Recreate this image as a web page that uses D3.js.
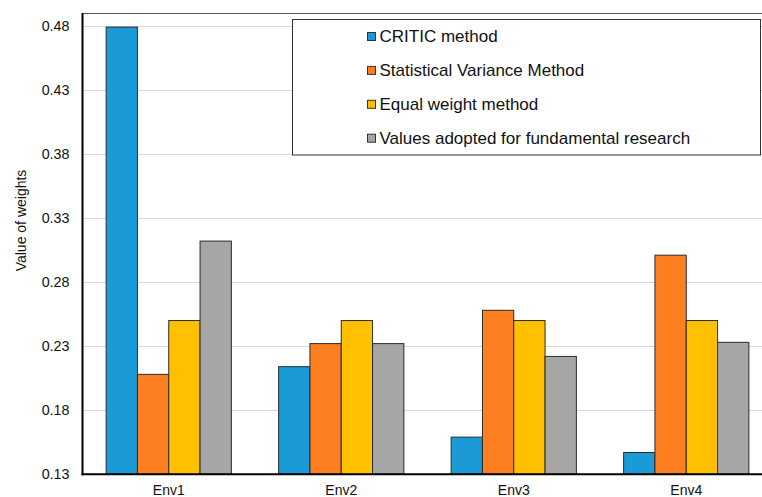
<!DOCTYPE html>
<html>
<head>
<meta charset="utf-8">
<script src="https://cdn.jsdelivr.net/npm/d3@7"></script>
<style>
  html, body { margin: 0; padding: 0; background: #fff; }
  svg { display: block; font-family: "Liberation Sans", Arial, sans-serif; }
</style>
</head>
<body>
<svg id="chart" width="762" height="497"></svg>
<script>
const categories = ["Env1", "Env2", "Env3", "Env4"];
const seriesNames = ["CRITIC method", "Statistical Variance Method", "Equal weight method", "Values adopted for fundamental research"];
const critic = [0.479, 0.214, 0.159, 0.147];
const variance = [0.208, 0.232, 0.258, 0.301];
const equal = [0.25, 0.25, 0.25, 0.25];
const adopted = [0.312, 0.232, 0.222, 0.233];
const yTicks = [0.13, 0.18, 0.23, 0.28, 0.33, 0.38, 0.43, 0.48];
const colors = ["#1a9bd7", "#fd7f20", "#ffc000", "#a6a6a6"];
const seriesValues = [critic, variance, equal, adopted];

(function () {
const svg = d3.select("#chart");
const pLeft = 82.5, pTop = 13, pBottom = 474.3, pRight = 772.5;

const y = d3.scaleLinear().domain([0.13, 0.49]).range([pBottom, pTop]);
const x0 = d3.scaleBand().domain(categories).range([pLeft, pRight]).paddingInner(0.274).paddingOuter(0.137);
const x1 = d3.scaleBand().domain(seriesNames).range([0, x0.bandwidth()]);

// gridlines
svg.append("g").selectAll("line").data(yTicks.slice(1)).join("line")
  .attr("x1", pLeft).attr("x2", 762)
  .attr("y1", d => Math.round(y(d)) + 0.5).attr("y2", d => Math.round(y(d)) + 0.5)
  .attr("stroke", "#d9d9d9").attr("stroke-width", 1);

// top border
svg.append("line").attr("x1", pLeft).attr("x2", 762).attr("y1", pTop + 0.5).attr("y2", pTop + 0.5)
  .attr("stroke", "#555").attr("stroke-width", 1);

// bars
const data = [];
categories.forEach((c, i) => seriesNames.forEach((s, j) => data.push({c, s, j, v: seriesValues[j][i]})));
svg.append("g").selectAll("rect").data(data).join("rect")
  .attr("x", d => x0(d.c) + x1(d.s))
  .attr("y", d => y(d.v))
  .attr("width", x1.bandwidth())
  .attr("height", d => pBottom - y(d.v))
  .attr("fill", d => colors[d.j])
  .attr("stroke", "#2b2b2b").attr("stroke-width", 1);

// y axis
const yAxis = d3.axisLeft(y).tickValues(yTicks).tickSize(0).tickPadding(13).tickFormat(d3.format(".2f"));
const gy = svg.append("g").attr("transform", `translate(${pLeft},0)`).call(yAxis);
gy.select(".domain").remove();
gy.selectAll("text").attr("font-size", 14.3).attr("fill", "#111").attr("font-family", "Liberation Sans, Arial, sans-serif");
svg.append("line").attr("x1", pLeft).attr("x2", pLeft).attr("y1", pTop).attr("y2", pBottom + 1)
  .attr("stroke", "#000").attr("stroke-width", 2);

// x axis
const xAxis = d3.axisBottom(x0).tickSize(0).tickPadding(0);
const gx = svg.append("g").attr("transform", `translate(0,${pBottom})`).call(xAxis);
gx.select(".domain").remove();
gx.selectAll("text").attr("font-size", 14).attr("fill", "#111").attr("dy", null).attr("y", 21)
  .attr("font-family", "Liberation Sans, Arial, sans-serif");
svg.append("line").attr("x1", pLeft - 1).attr("x2", 762).attr("y1", pBottom).attr("y2", pBottom)
  .attr("stroke", "#000").attr("stroke-width", 2);

// y label
svg.append("text").attr("transform", "translate(26,220.5) rotate(-90)")
  .attr("text-anchor", "middle").attr("font-size", 14).attr("fill", "#111")
  .text("Value of weights");

// legend
const lg = svg.append("g");
lg.append("rect").attr("x", 292.5).attr("y", 19.5).attr("width", 468).attr("height", 135.5)
  .attr("fill", "#fff").attr("stroke", "#333").attr("stroke-width", 1);
const rows = lg.selectAll("g.row").data(seriesNames).join("g").attr("class", "row")
  .attr("transform", (d, i) => `translate(0,${36 + i * 33.9})`);
rows.append("rect").attr("x", 367.5).attr("y", -3.5).attr("width", 8).attr("height", 8)
  .attr("fill", (d, i) => colors[i]).attr("stroke", "#333").attr("stroke-width", 1);
rows.append("text").attr("x", 379.5).attr("y", 6).attr("font-size", 17).attr("fill", "#111").text(d => d);
})();
</script>
</body>
</html>
